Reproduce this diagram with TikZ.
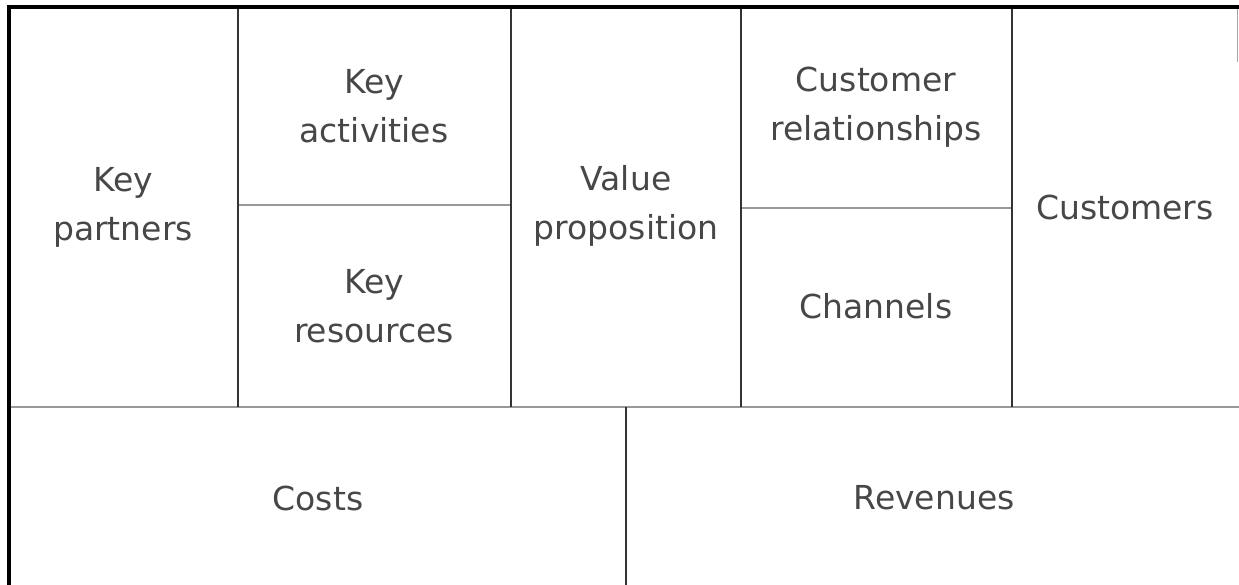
\documentclass[tikz,border=0pt]{standalone}
\usepackage{xcolor}
\usepackage{fontspec}
\setmainfont{DejaVu Sans}
\usepackage{tikz}
\usetikzlibrary{positioning}

\tikzset{
	block/.style={align=center,text=black!72,font=\fontsize{33}{49}\selectfont},
	rim/.style={line width=3.2pt,black},
	wall/.style={line width=1.8pt,black!80},
	seam/.style={line width=1.8pt,black!40},
}

\begin{document}
\begin{tikzpicture}[x=1pt,y=-1pt]
	\useasboundingbox (0,0) rectangle (1239,585);
	% corners of the canvas
	\coordinate (tl) at (9,7);
	\coordinate (tr) at (1239,7);
	\coordinate (bl) at (9,585);
	\coordinate (ml) at (9,407);
	\coordinate (mr) at (1239,407);
	% column walls
	\coordinate (a1) at (238,7);   \coordinate (a2) at (238,407);
	\coordinate (b1) at (511,7);   \coordinate (b2) at (511,407);
	\coordinate (c1) at (741,7);   \coordinate (c2) at (741,407);
	\coordinate (d1) at (1012,7);  \coordinate (d2) at (1012,407);
	\coordinate (e1) at (626,407); \coordinate (e2) at (626,585);
	% splits inside the columns
	\coordinate (s1) at (238,205); \coordinate (s2) at (511,205);
	\coordinate (s3) at (741,208); \coordinate (s4) at (1012,208);

	\draw[seam] (ml) -- (mr);
	\draw[seam] (s1) -- (s2);
	\draw[seam] (s3) -- (s4);
	\draw[wall] (a1) -- (a2);
	\draw[wall] (b1) -- (b2);
	\draw[wall] (c1) -- (c2);
	\draw[wall] (d1) -- (d2);
	\draw[wall] (e1) -- (e2);
	\draw[line width=1.2pt,black!35] (1237.5,7) -- (1237.5,62);
	\draw[rim] (bl) -- (tl) -- (tr);

	\node[block] (partners) at (123,207) {Key\\partners};
	\node[block] (activities) at (374,106) {Key\\activities};
	\node[block] (resources) at (374,306) {Key\\resources};
	\node[block] (value) at (626,206) {Value\\proposition};
	\node[block] (relations) at (876,107) {Customer\\relationships};
	\node[block] (channels) at (876,306) {Channels};
	\node[block] (customers) at (1125,207) {Customers};
	\node[block] (costs) at (318,498) {Costs};
	\node[block] (revenues) at (934,498) {Revenues};
\end{tikzpicture}
\end{document}
